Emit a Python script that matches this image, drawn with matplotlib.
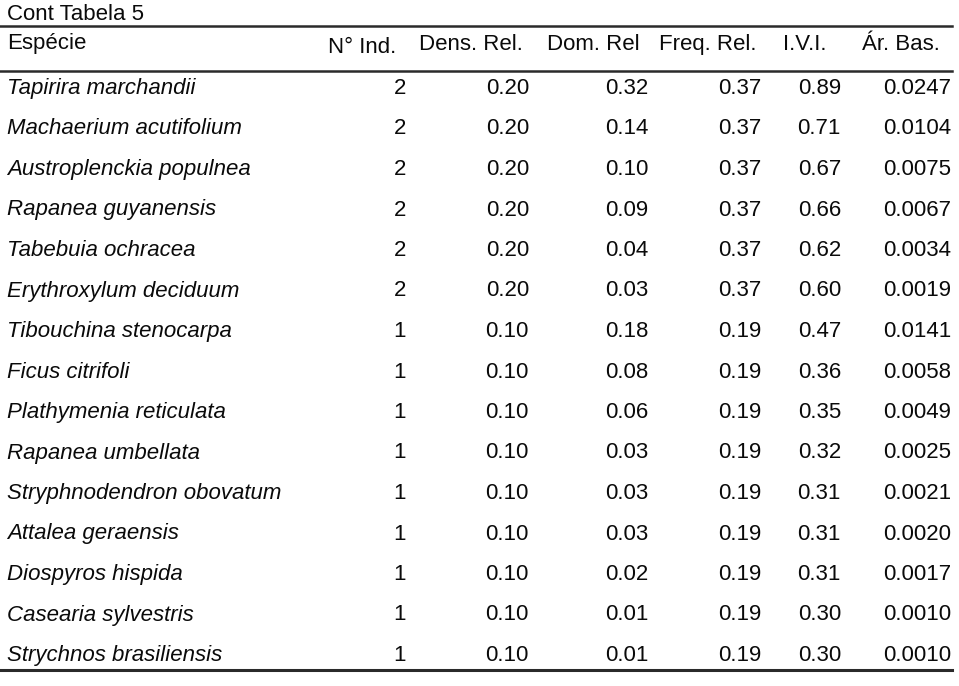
import matplotlib
matplotlib.use("Agg")
import matplotlib.pyplot as plt

plt.rcParams['font.family'] = ['Liberation Sans', 'DejaVu Sans']

title = "Cont Tabela 5"
headers = ["Espécie", "N° Ind.", "Dens. Rel.", "Dom. Rel", "Freq. Rel.", "I.V.I.", "Ár. Bas."]
species = ["Tapirira marchandii", "Machaerium acutifolium", "Austroplenckia populnea",
           "Rapanea guyanensis", "Tabebuia ochracea", "Erythroxylum deciduum",
           "Tibouchina stenocarpa", "Ficus citrifoli", "Plathymenia reticulata",
           "Rapanea umbellata", "Stryphnodendron obovatum", "Attalea geraensis",
           "Diospyros hispida", "Casearia sylvestris", "Strychnos brasiliensis"]
n_ind = [2, 2, 2, 2, 2, 2, 1, 1, 1, 1, 1, 1, 1, 1, 1]
dens_rel = ["0.20", "0.20", "0.20", "0.20", "0.20", "0.20", "0.10", "0.10", "0.10",
            "0.10", "0.10", "0.10", "0.10", "0.10", "0.10"]
dom_rel = ["0.32", "0.14", "0.10", "0.09", "0.04", "0.03", "0.18", "0.08", "0.06",
           "0.03", "0.03", "0.03", "0.02", "0.01", "0.01"]
freq_rel = ["0.37", "0.37", "0.37", "0.37", "0.37", "0.37", "0.19", "0.19", "0.19",
            "0.19", "0.19", "0.19", "0.19", "0.19", "0.19"]
ivi = ["0.89", "0.71", "0.67", "0.66", "0.62", "0.60", "0.47", "0.36", "0.35",
       "0.32", "0.31", "0.31", "0.31", "0.30", "0.30"]
ar_bas = ["0.0247", "0.0104", "0.0075", "0.0067", "0.0034", "0.0019", "0.0141", "0.0058",
          "0.0049", "0.0025", "0.0021", "0.0020", "0.0017", "0.0010", "0.0010"]

W, H = 959, 686
fig = plt.figure(figsize=(W / 100, H / 100), dpi=100)
ax = fig.add_axes([0, 0, 1, 1])
ax.set_xlim(0, W)
ax.set_ylim(H, 0)
ax.axis('off')

fs = 16
col = '#0a0a0a'
ax.text(7, 20, title, fontsize=fs, color=col, va='baseline', ha='left')
ax.plot([0, 952], [26, 26], color='#2a2a2a', lw=1.8)
ax.text(7, 49, headers[0], fontsize=fs, color=col, va='baseline', ha='left')
header_x = [362, 471, 593, 708, 805, 901]
header_y = [53, 50, 50, 50, 50, 50]
for hx, hy, h in zip(header_x, header_y, headers[1:]):
    ax.text(hx, hy, h, fontsize=fs, color=col, va='baseline', ha='center')
ax.plot([0, 952], [71, 71], color='#2a2a2a', lw=1.8)

row_y0, row_dy = 94, 40.5
right_x = [406, 529, 648, 761, 841, 951]
cols = [[str(v) for v in n_ind], dens_rel, dom_rel, freq_rel, ivi, ar_bas]
for i, sp in enumerate(species):
    y = row_y0 + i * row_dy
    ax.text(7, y, sp, fontsize=fs, color=col, va='baseline', ha='left', style='italic')
    for rx, c in zip(right_x, cols):
        ax.text(rx, y, c[i], fontsize=fs, color=col, va='baseline', ha='right')

ax.plot([0, 952], [670, 670], color='#2a2a2a', lw=2.2)

fig.savefig("out.png", dpi=100)
